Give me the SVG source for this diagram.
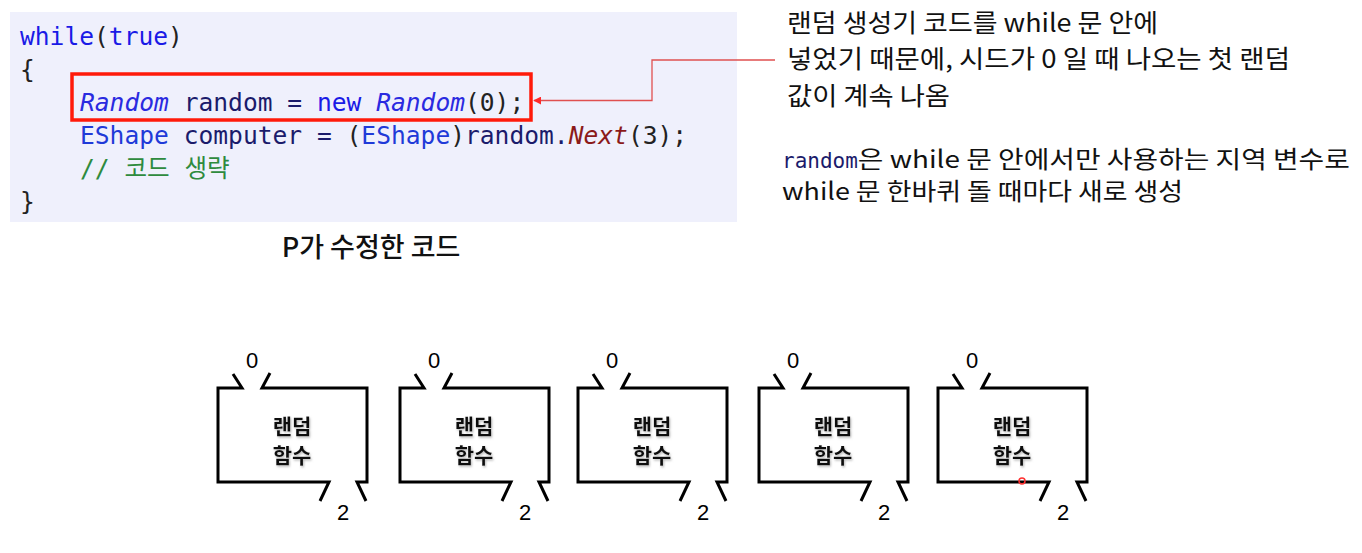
<svg xmlns="http://www.w3.org/2000/svg" width="1362" height="553" viewBox="0 0 1362 553">
<style>
.code{font-family:"DejaVu Sans Mono","Noto Sans CJK KR",monospace;font-size:24.6px;}
.kw{fill:#1a1ae6;}
.cls{fill:#2a2ae0;font-style:italic;}
.id{fill:#1b1b6b;}
.pn{fill:#222222;}
.ty{fill:#1f3ad8;}
.mt{fill:#8b1a1a;font-style:italic;}
.cm{fill:#2e8b3e;}
.note{font-family:"Noto Sans CJK KR","Noto Sans",sans-serif;font-size:25px;fill:#111111;}
.note2{font-family:"Noto Sans CJK KR","Noto Sans",sans-serif;font-size:24px;fill:#111111;}
.cap{font-family:"Noto Sans CJK KR","Noto Sans",sans-serif;font-size:27px;font-weight:500;fill:#111111;text-anchor:middle;}
.box{fill:none;stroke:#000000;stroke-width:3;stroke-linejoin:miter;stroke-linecap:butt;}
.lbl{font-family:"Noto Sans CJK KR",sans-serif;font-size:21px;font-weight:bold;fill:#111111;text-anchor:middle;filter:url(#sh);}
.num{font-family:"Liberation Sans","Noto Sans",sans-serif;font-size:22px;fill:#000000;text-anchor:middle;}
.conn{fill:none;stroke:#e05050;stroke-width:1.3;}
</style>
<defs>
<filter id="sh" x="-20%" y="-20%" width="140%" height="140%">
<feDropShadow dx="1" dy="1.5" stdDeviation="1" flood-color="#888888" flood-opacity="0.6"/>
</filter>
<marker id="arr" viewBox="0 0 10 10" refX="9" refY="5" markerWidth="8" markerHeight="8" markerUnits="userSpaceOnUse" orient="auto">
<path d="M0,0 L10,5 L0,10 z" fill="#ff2a2a"/>
</marker>
<path id="bx" d="M15,-14 L24,0 L0,0 L0,94 L111,94 L102,113 M52,-15 L44,0 L149,0 L149,94 L139,94 L148,113"/>
</defs>
<rect width="1362" height="553" fill="#ffffff"/>

<g id="code-panel">
<rect x="10" y="12" width="727" height="210" fill="#eff0fc"/>
<text class="code" x="20" y="45"><tspan class="kw">while</tspan><tspan class="pn">(</tspan><tspan class="kw">true</tspan><tspan class="pn">)</tspan></text>
<text class="code pn" x="20" y="78">{</text>
<text class="code" x="80" y="111" xml:space="preserve"><tspan class="cls">Random</tspan><tspan class="id"> random = </tspan><tspan class="kw">new</tspan> <tspan class="cls">Random</tspan><tspan class="pn">(0);</tspan></text>
<text class="code" x="80" y="144" xml:space="preserve"><tspan class="ty">EShape</tspan><tspan class="id"> computer = </tspan><tspan class="pn">(</tspan><tspan class="ty">EShape</tspan><tspan class="pn">)</tspan><tspan class="id">random.</tspan><tspan class="mt">Next</tspan><tspan class="pn">(3);</tspan></text>
<text class="code cm" x="80" y="177">// 코드 생략</text>
<text class="code pn" x="20" y="210">}</text>
</g>

<g id="highlight">
<rect x="72" y="74" width="459" height="46" fill="none" stroke="#ff1a0a" stroke-width="3.5"/>
</g>

<g id="caption">
<text class="cap" x="371" y="257">P가 수정한 코드</text>
</g>

<g id="note-1">
<text class="note" x="787" y="31.5" textLength="371" lengthAdjust="spacingAndGlyphs">랜덤 생성기 코드를 while 문 안에</text>
<text class="note" x="787" y="68" textLength="503" lengthAdjust="spacingAndGlyphs">넣었기 때문에, 시드가 0 일 때 나오는 첫 랜덤</text>
<text class="note" x="787" y="104.5" textLength="163" lengthAdjust="spacingAndGlyphs">값이 계속 나옴</text>
</g>

<g id="note-2">
<text class="note2" x="782" y="168"><tspan style="font-family:'DejaVu Sans Mono',monospace;font-size:21px;fill:#1b1b6b">random</tspan><tspan textLength="492" lengthAdjust="spacingAndGlyphs">은 while 문 안에서만 사용하는 지역 변수로</tspan></text>
<text class="note2" x="782" y="200" textLength="401" lengthAdjust="spacingAndGlyphs">while 문 한바퀴 돌 때마다 새로 생성</text>
</g>

<g id="connectors">
<polyline class="conn" points="775,60 652,60 652,100.5 534,100.5" marker-end="url(#arr)"/>
</g>

<g id="rand-1">
<use href="#bx" x="218" y="388" class="box"/>
<text class="num" x="252" y="368">0</text>
<text class="num" x="343" y="520">2</text>
<text class="lbl"><tspan x="292" y="434">랜덤</tspan><tspan x="292" y="463">함수</tspan></text>
</g>
<g id="rand-2">
<use href="#bx" x="400" y="388" class="box"/>
<text class="num" x="434" y="368">0</text>
<text class="num" x="525" y="520">2</text>
<text class="lbl"><tspan x="474" y="434">랜덤</tspan><tspan x="474" y="463">함수</tspan></text>
</g>
<g id="rand-3">
<use href="#bx" x="578" y="388" class="box"/>
<text class="num" x="612" y="368">0</text>
<text class="num" x="703" y="520">2</text>
<text class="lbl"><tspan x="652" y="434">랜덤</tspan><tspan x="652" y="463">함수</tspan></text>
</g>
<g id="rand-4">
<use href="#bx" x="759" y="388" class="box"/>
<text class="num" x="793" y="368">0</text>
<text class="num" x="884" y="520">2</text>
<text class="lbl"><tspan x="833" y="434">랜덤</tspan><tspan x="833" y="463">함수</tspan></text>
</g>
<g id="rand-5">
<use href="#bx" x="938" y="388" class="box"/>
<text class="num" x="972" y="368">0</text>
<text class="num" x="1063" y="520">2</text>
<text class="lbl"><tspan x="1012" y="434">랜덤</tspan><tspan x="1012" y="463">함수</tspan></text>
<circle cx="1022" cy="481" r="3" fill="none" stroke="#ff3030" stroke-width="1.5"/>
</g>
</svg>
